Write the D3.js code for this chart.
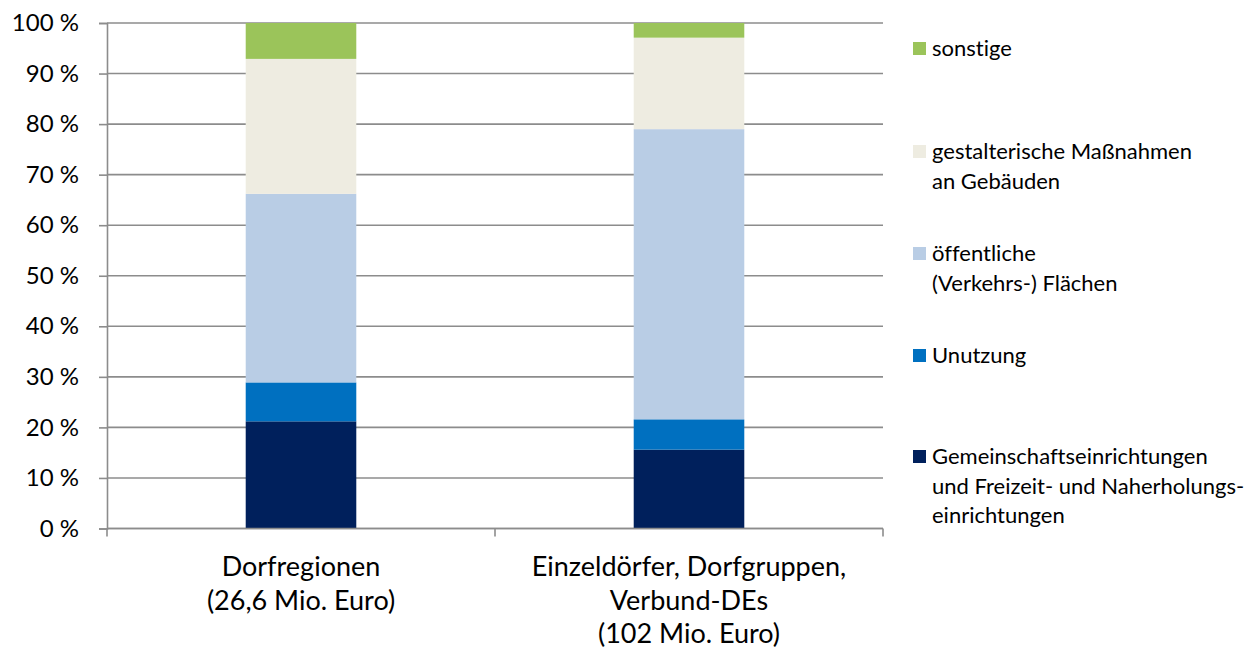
<!DOCTYPE html>
<html>
<head>
<meta charset="utf-8">
<script src="https://cdn.jsdelivr.net/npm/d3@7"></script>
<style>
  body { margin: 0; background: #fff; }
  svg { display: block; font-family: Lato, "Open Sans", sans-serif; font-variant-ligatures: none; }
  svg text { font-variant-ligatures: none; font-feature-settings: "liga" 0, "clig" 0; }
</style>
</head>
<body>
<svg id="chart" width="1253" height="652"></svg>
<script>
// Categories (each label split into lines)
const categories = ["Dorfregionen", "Einzeldörfer"];
const categoryLines = [
  ["Dorfregionen", "(26,6 Mio. Euro)"],
  ["Einzeldörfer, Dorfgruppen,", "Verbund-DEs", "(102 Mio. Euro)"]
];

// Series, bottom to top (shares in %)
const seriesNames = ["gemeinschaft", "umnutzung", "flaechen", "gestaltung", "sonstige"];
const gemeinschaft = [21.2, 15.6];
const umnutzung   = [7.7, 6.0];
const flaechen    = [37.3, 57.4];
const gestaltung  = [26.7, 18.1];
const sonstige    = [7.1, 2.9];
const seriesColors = ["#00205C", "#0070C0", "#B9CDE5", "#EEECE1", "#9BC45A"];

// Legend entries, top to bottom
const legendLabels = [
  ["sonstige"],
  ["gestalterische Maßnahmen", "an Gebäuden"],
  ["öffentliche", "(Verkehrs-) Flächen"],
  ["Unutzung"],
  ["Gemeinschaftseinrichtungen", "und Freizeit- und Naherholungs-", "einrichtungen"]
];
const legendSeries = ["sonstige", "gestaltung", "flaechen", "umnutzung", "gemeinschaft"];

const yTicks = [0, 10, 20, 30, 40, 50, 60, 70, 80, 90, 100];

const seriesValues = { gemeinschaft, umnutzung, flaechen, gestaltung, sonstige };
const rows = categories.map((c, i) => {
  const r = { cat: c };
  seriesNames.forEach(s => r[s] = seriesValues[s][i]);
  return r;
});

const svg = d3.select("#chart");
const plot = { left: 107, right: 883, top: 23, bottom: 528.5 };

const x = d3.scaleBand().domain(categories).range([plot.left, plot.right]).paddingInner(0.715).paddingOuter(0.3575);
const y = d3.scaleLinear().domain([0, 100]).range([plot.bottom, plot.top]);

// Horizontal gridlines
svg.append("g")
  .selectAll("line")
  .data(yTicks)
  .join("line")
  .attr("x1", plot.left).attr("x2", plot.right)
  .attr("y1", d => y(d)).attr("y2", d => y(d))
  .attr("stroke", "#8c8c8c").attr("stroke-width", 1.6);

// Stacked bars
const stack = d3.stack().keys(seriesNames)(rows);
const color = d3.scaleOrdinal().domain(seriesNames).range(seriesColors);
svg.append("g")
  .selectAll("g")
  .data(stack)
  .join("g")
  .attr("fill", d => color(d.key))
  .selectAll("rect")
  .data(d => d)
  .join("rect")
  .attr("x", d => x(d.data.cat))
  .attr("width", x.bandwidth())
  .attr("y", d => y(d[1]))
  .attr("height", d => y(d[0]) - y(d[1]));

// Y axis
const yAxis = d3.axisLeft(y).tickValues(yTicks).tickSize(8).tickPadding(20).tickFormat(d => d + " %");
const yg = svg.append("g").attr("transform", `translate(${plot.left},0)`).call(yAxis);
yg.select(".domain").attr("stroke", "#8c8c8c").attr("stroke-width", 1.6);
yg.selectAll(".tick line").attr("stroke", "#8c8c8c").attr("stroke-width", 1.6);
yg.selectAll(".tick text").attr("font-size", 24).attr("fill", "#000")
  .attr("font-family", "Lato, 'Open Sans', sans-serif");

// X axis line with boundary ticks
const xg = svg.append("g");
xg.append("line")
  .attr("x1", plot.left).attr("x2", plot.right)
  .attr("y1", plot.bottom).attr("y2", plot.bottom)
  .attr("stroke", "#8c8c8c").attr("stroke-width", 1.6);
const boundaries = [plot.left, (plot.left + plot.right) / 2, plot.right];
xg.selectAll("line.b")
  .data(boundaries)
  .join("line").attr("class", "b")
  .attr("x1", d => d).attr("x2", d => d)
  .attr("y1", plot.bottom).attr("y2", plot.bottom + 8)
  .attr("stroke", "#8c8c8c").attr("stroke-width", 1.6);

// Category labels
categories.forEach((c, i) => {
  const t = svg.append("text")
    .attr("x", x(c) + x.bandwidth() / 2)
    .attr("y", 576)
    .attr("text-anchor", "middle")
    .attr("font-size", 27)
    .attr("fill", "#000");
  categoryLines[i].forEach((line, j) => {
    t.append("tspan").attr("x", x(c) + x.bandwidth() / 2).attr("dy", j === 0 ? 0 : 33.5).text(line);
  });
});

// Legend
const legendTop = [55, 158, 260, 362, 463];
const lg = svg.append("g");
legendLabels.forEach((lines, i) => {
  const yy = legendTop[i];
  lg.append("rect")
    .attr("x", 913).attr("y", yy - 13)
    .attr("width", 13).attr("height", 13)
    .attr("fill", color(legendSeries[i]));
  const t = lg.append("text").attr("x", 932).attr("y", yy + 1)
    .attr("font-size", 22).attr("fill", "#000");
  lines.forEach((line, j) => {
    t.append("tspan").attr("x", 932).attr("dy", j === 0 ? 0 : 29.5).text(line);
  });
});
</script>
</body>
</html>
